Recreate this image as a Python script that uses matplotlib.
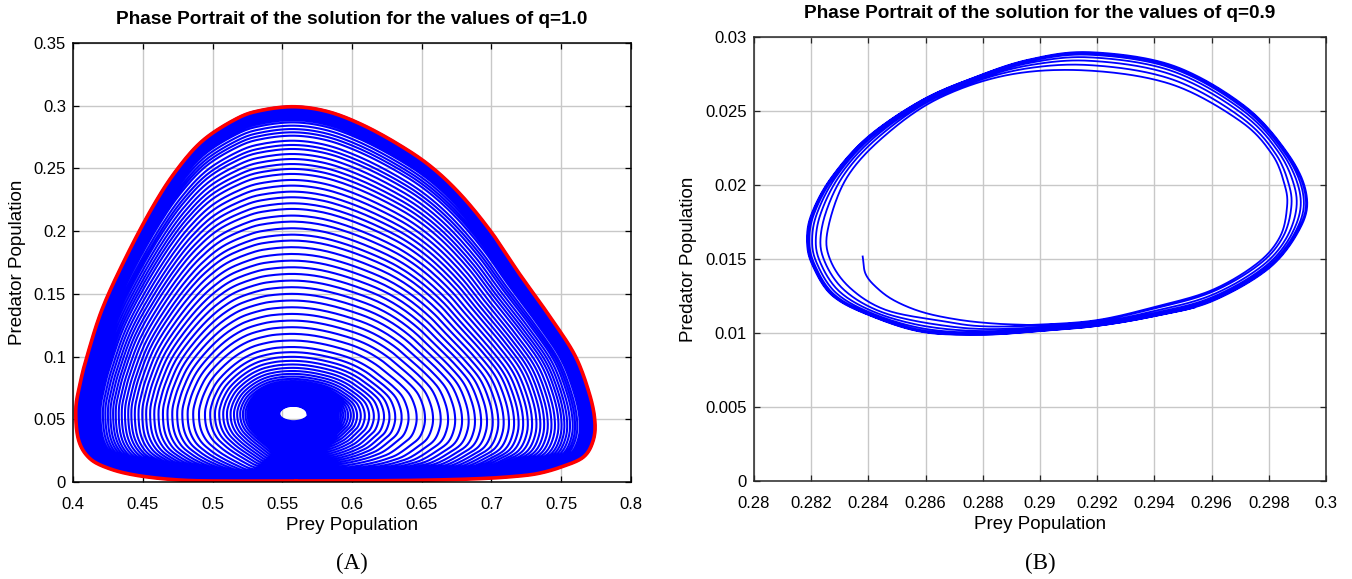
import numpy as np
import matplotlib
matplotlib.use("Agg")
import matplotlib.pyplot as plt

plt.rcParams["font.family"] = ["Liberation Sans", "DejaVu Sans"]

# ---- panel A (q=1.0): outer limit cycle (red) ----
a_red_x = [0.560, 0.620, 0.660, 0.692, 0.715, 0.733, 0.750, 0.766, 0.773, 0.774,
           0.770, 0.760, 0.743, 0.720, 0.700, 0.678, 0.656, 0.632, 0.606,
           0.582, 0.558, 0.534, 0.517, 0.493, 0.474, 0.457, 0.438, 0.421, 0.410,
           0.405, 0.402, 0.404, 0.412, 0.426, 0.445, 0.472, 0.500]
a_red_y = [0.0008, 0.0010, 0.0016, 0.0027, 0.0043, 0.0067, 0.0120, 0.0200, 0.0335, 0.0496,
           0.0710, 0.1005, 0.1300, 0.1660, 0.1990, 0.2290, 0.2520, 0.2700, 0.2855,
           0.2955, 0.2992, 0.2961, 0.2895, 0.2722, 0.2483, 0.2191, 0.1793, 0.1381, 0.1000,
           0.0780, 0.0576, 0.0335, 0.0188, 0.0107, 0.0054, 0.0019, 0.0008]
# equilibrium hole in the middle: centre and half sizes
a_center = (0.558, 0.0545)
a_hole = (0.010, 0.0063)
# tops of the blue spiral turns (read along x = 0.558), inner to outer
a_tops = [0.0608, 0.0612, 0.0616, 0.0620, 0.0624, 0.0628, 0.0632, 0.0637, 0.0642, 0.0647,
          0.0652, 0.0657, 0.0663, 0.0669, 0.0675, 0.0681, 0.0688, 0.0695, 0.0702, 0.0710,
          0.0718, 0.0726, 0.0735, 0.0744, 0.0754, 0.0765, 0.0777, 0.0790, 0.0805, 0.0822,
          0.0841, 0.0862, 0.0885, 0.0910, 0.0937, 0.0966, 0.0998, 0.1035, 0.1076, 0.1128,
          0.1181, 0.1234, 0.1287, 0.1340, 0.1393, 0.1447, 0.1500, 0.1553, 0.1606, 0.1659,
          0.1712, 0.1765, 0.1818, 0.1872, 0.1925, 0.1972, 0.2023, 0.2076, 0.2124, 0.2177,
          0.2222, 0.2270, 0.2315, 0.2363, 0.2408, 0.2456, 0.2496, 0.2535, 0.2575, 0.2615,
          0.2655, 0.2687, 0.2721, 0.2761, 0.2788, 0.2814, 0.2841, 0.2867, 0.2885, 0.2900,
          0.2915, 0.2930, 0.2945, 0.2955, 0.2965, 0.2975, 0.2985, 0.2995]

# ---- panel B (q=0.9) ----
b_outer_x = [0.29176, 0.29463, 0.29713, 0.29862, 0.29925, 0.29906, 0.29800, 0.29600,
             0.29400, 0.29200, 0.29000, 0.28800, 0.28589, 0.28402, 0.28277, 0.28210,
             0.28193, 0.28209, 0.28277, 0.28402, 0.28589, 0.28777, 0.28964]
b_outer_y = [0.02885, 0.02795, 0.02525, 0.02210, 0.01940, 0.01715, 0.01445, 0.01220,
             0.01120, 0.01052, 0.01018, 0.00995, 0.01018, 0.01130, 0.01265, 0.01468,
             0.01625, 0.01805, 0.02052, 0.02322, 0.02570, 0.02727, 0.02840]
b_inner_x = [0.29176, 0.28901, 0.28652, 0.28465, 0.28327, 0.28262, 0.28270, 0.28340,
             0.28465, 0.28660, 0.28800, 0.29000, 0.29200, 0.29400, 0.29600, 0.29760,
             0.29840, 0.29865, 0.29857, 0.29812, 0.29700, 0.29463]
b_inner_y = [0.02777, 0.02750, 0.02592, 0.02345, 0.02052, 0.01700, 0.01500, 0.01310,
             0.01160, 0.01090, 0.01052, 0.01057, 0.01087, 0.01175, 0.01288, 0.01470,
             0.01650, 0.01850, 0.02000, 0.02210, 0.02435, 0.02682]
b_start_x = [0.28380, 0.28390, 0.28427, 0.28490, 0.28589, 0.28714, 0.28839, 0.28964]
b_start_y = [0.01517, 0.01400, 0.01310, 0.01220, 0.01141, 0.01090, 0.01064, 0.01054]
b_center = (0.2906, 0.0192)
b_tops = [0.02777, 0.02810, 0.02835, 0.02855, 0.02870, 0.02880, 0.02885]

a_xticks = [0.4, 0.45, 0.5, 0.55, 0.6, 0.65, 0.7, 0.75, 0.8]
a_xlabels = ["0.4", "0.45", "0.5", "0.55", "0.6", "0.65", "0.7", "0.75", "0.8"]
a_yticks = [0, 0.05, 0.1, 0.15, 0.2, 0.25, 0.3, 0.35]
a_ylabels = ["0", "0.05", "0.1", "0.15", "0.2", "0.25", "0.3", "0.35"]
b_xticks = [0.28, 0.282, 0.284, 0.286, 0.288, 0.29, 0.292, 0.294, 0.296, 0.298, 0.3]
b_xlabels = ["0.28", "0.282", "0.284", "0.286", "0.288", "0.29", "0.292", "0.294",
             "0.296", "0.298", "0.3"]
b_yticks = [0, 0.005, 0.01, 0.015, 0.02, 0.025, 0.03]
b_ylabels = ["0", "0.005", "0.01", "0.015", "0.02", "0.025", "0.03"]

TWO_PI = 2 * np.pi


def catmull(x, y, closed=True, n=16):
    # smooth a traced polyline (Catmull-Rom through the traced points)
    P = np.c_[x, y].astype(float)
    if not closed:
        P = np.vstack([2 * P[0] - P[1], P, 2 * P[-1] - P[-2]])
    m = len(P)
    t = np.linspace(0, 1, n, endpoint=False)[:, None]
    segs = []
    rng = range(m) if closed else range(1, m - 2)
    for i in rng:
        p0, p1, p2, p3 = P[i - 1], P[i], P[(i + 1) % m], P[(i + 2) % m]
        segs.append(0.5 * (2 * p1 + (-p0 + p2) * t + (2 * p0 - 5 * p1 + 4 * p2 - p3) * t ** 2
                           + (-p0 + 3 * p1 - 3 * p2 + p3) * t ** 3))
    out = np.vstack(segs)
    if closed:
        out = np.vstack([out, out[:1]])
    else:
        out = np.vstack([out, P[-2:-1]])
    return out[:, 0], out[:, 1]


def to_polar(x, y, c, sx, sy):
    u = (np.asarray(x) - c[0]) / sx
    v = (np.asarray(y) - c[1]) / sy
    return np.arctan2(v, u), np.hypot(u, v)


def radial(th_pts, r_pts):
    def f(th):
        return np.interp(np.mod(th, TWO_PI), np.mod(th_pts, TWO_PI), r_pts, period=TWO_PI)
    return f


def spiral(theta0, t_end, r_in, r_out, t_keys, f_keys, n=240):
    t = np.linspace(0, t_end, int(t_end * n))
    th = theta0 + TWO_PI * t
    f = np.interp(t, t_keys, f_keys)
    r = r_in(th) + f * (r_out(th) - r_in(th))
    return np.cos(th) * r, np.sin(th) * r


def style_axes(ax, xt, xl, yt, yl, spine_color):
    ax.set_xticks(xt)
    ax.set_xticklabels(xl)
    ax.set_yticks(yt)
    ax.set_yticklabels(yl)
    ax.set_xlim(xt[0], xt[-1])
    ax.set_ylim(yt[0], yt[-1])
    ax.grid(True, color="#c8c8c8", linewidth=1.0)
    ax.set_axisbelow(True)
    ax.tick_params(direction="in", length=4, width=0.9, top=True, right=True,
                   labelsize=12, colors=spine_color, labelcolor="black")
    ax.tick_params(axis="x", pad=11)
    ax.tick_params(axis="y", pad=5)
    for s in ax.spines.values():
        s.set_linewidth(1.1)
        s.set_color(spine_color)


fig = plt.figure(figsize=(13.52, 5.79), dpi=100)
ax1 = fig.add_axes([73 / 1352, 1 - 482 / 579, 558 / 1352, 439 / 579])
ax2 = fig.add_axes([754 / 1352, 1 - 481 / 579, 572 / 1352, 444 / 579])

# ---------------- panel A ----------------
sxa, sya = 0.1, 1.0
lc = (a_center[0], np.log(a_center[1]))
red_x, red_y = catmull(a_red_x, a_red_y)
red_y = np.clip(red_y, 0.0006, None)
th_red, r_red = to_polar(red_x, np.log(red_y), lc, sxa, sya)
r_out_a = radial(th_red, r_red)
ea = a_hole[0] / sxa
eb = np.log((a_center[1] + a_hole[1]) / a_center[1]) / sya


def r_in_a(th):
    return 1.0 / np.sqrt((np.cos(th) / ea) ** 2 + (np.sin(th) / eb) ** 2)


top_in = r_in_a(np.pi / 2)
top_out = r_out_a(np.pi / 2)
r_tops = np.log(np.array(a_tops) / a_center[1]) / sya
fa = (r_tops - top_in) / (top_out - top_in)
ta = np.arange(len(fa)) + 0.25
u, v = spiral(0.0, ta[-1] + 0.75, r_in_a, r_out_a,
              np.r_[0.0, ta, ta[-1] + 1], np.r_[0.0, fa, fa[-1]], n=300)
ax1.plot(a_center[0] + sxa * u, np.exp(lc[1] + sya * v), color="blue", linewidth=1.5)
ax1.plot(red_x, red_y, color="red", linewidth=2.6, solid_joinstyle="round")
style_axes(ax1, a_xticks, a_xlabels, a_yticks, a_ylabels, "black")

# ---------------- panel B ----------------
sxb, syb = 0.008, 0.009
ox, oy = catmull(b_outer_x, b_outer_y)
ix, iy = catmull(b_inner_x, b_inner_y)
r_out_b = radial(*to_polar(ox, oy, b_center, sxb, syb))
r_in_b = radial(*to_polar(ix, iy, b_center, sxb, syb))

sx_, sy_ = catmull(b_start_x, b_start_y, closed=False)
th0, _ = to_polar(b_start_x[-1], b_start_y[-1], b_center, sxb, syb)
t_top = np.mod(np.pi / 2 - th0, TWO_PI) / TWO_PI
r_tb = (np.array(b_tops) - b_center[1]) / syb
fb = (r_tb - r_in_b(np.pi / 2)) / (r_out_b(np.pi / 2) - r_in_b(np.pi / 2))
tb = np.arange(len(fb)) + t_top
u, v = spiral(float(th0), tb[-1] + 0.6, r_in_b, r_out_b,
              np.r_[0.0, tb, tb[-1] + 1], np.r_[0.0, fb, fb[-1]], n=500)
bx = np.r_[sx_, b_center[0] + sxb * u]
by = np.r_[sy_, b_center[1] + syb * v]
ax2.plot(bx, by, color="blue", linewidth=1.3)
style_axes(ax2, b_xticks, b_xlabels, b_yticks, b_ylabels, "#262626")

for ax, ly, lx in [(ax1, -0.098, -0.100), (ax2, -0.099, -0.115)]:
    ax.set_xlabel("Prey Population", fontsize=13.5)
    ax.set_ylabel("Predator Population", fontsize=13.5)
    ax.xaxis.set_label_coords(0.5, ly)
    ax.yaxis.set_label_coords(lx, 0.5)
    ax.xaxis.label.set_va("center")
    ax.yaxis.label.set_va("center")

fig.text(352 / 1352, 1 - 19 / 579, "Phase Portrait of the solution for the values of q=1.0",
         ha="center", va="center", fontsize=13.7, fontweight="bold")
fig.text(1040 / 1352, 1 - 13 / 579, "Phase Portrait of the solution for the values of q=0.9",
         ha="center", va="center", fontsize=13.7, fontweight="bold")
fig.text(352 / 1352, 1 - 563 / 579, "(A)", ha="center", va="center", fontsize=16.5,
         family=["Liberation Serif", "DejaVu Serif"])
fig.text(1040 / 1352, 1 - 563 / 579, "(B)", ha="center", va="center", fontsize=16.5,
         family=["Liberation Serif", "DejaVu Serif"])

fig.savefig("out.png", dpi=100)
